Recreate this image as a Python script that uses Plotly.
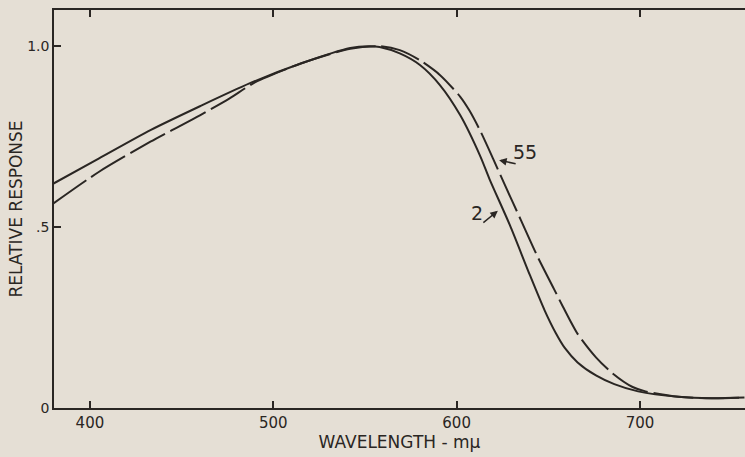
import plotly.graph_objects as go

# Curve "2" (solid)
wl_2 = [380, 405, 433, 460, 487, 515, 542, 552, 558, 569, 580, 591, 602, 613, 618,
        629, 640, 648, 654, 659, 666, 676, 686, 699, 721, 739, 757]
resp_2 = [0.62, 0.69, 0.768, 0.834, 0.897, 0.952, 0.995, 1.0, 0.998, 0.98, 0.948, 0.892,
          0.809, 0.695, 0.632, 0.506, 0.367, 0.27, 0.208, 0.166, 0.126, 0.09, 0.066,
          0.046, 0.031, 0.027, 0.029]

# Curve "55" (dashed)
wl_55 = [380, 405, 433, 460, 476, 490, 515, 542, 558, 569, 580, 591, 602, 607, 613,
         620, 626, 635, 644, 653, 658, 666, 676, 685, 696, 703, 721, 739, 757]
resp_55 = [0.565, 0.653, 0.736, 0.809, 0.855, 0.9, 0.952, 0.993, 1.0, 0.989, 0.961, 0.92,
           0.86, 0.822, 0.765, 0.688, 0.62, 0.52, 0.42, 0.33, 0.28, 0.205, 0.14,
           0.096, 0.058, 0.046, 0.031, 0.027, 0.029]

x_ticks = [400, 500, 600, 700]
y_ticks = [0, 0.5, 1.0]
y_ticktext = ["0", ".5", "1.0"]

BG = "#e5dfd5"
INK = "#2a2623"
FONT = "DejaVu Sans"

fig = go.Figure()
fig.add_trace(go.Scatter(x=wl_2, y=resp_2, mode="lines", name="2",
                         line=dict(color=INK, width=2, shape="spline", smoothing=0.7)))
fig.add_trace(go.Scatter(x=wl_55, y=resp_55, mode="lines", name="55",
                         line=dict(color=INK, width=2, dash="40px,6px",
                                   shape="spline", smoothing=0.7)))

fig.update_layout(
    width=745, height=457, autosize=False,
    margin=dict(l=54, r=0, t=10, b=49),
    paper_bgcolor=BG, plot_bgcolor=BG,
    showlegend=False,
    font=dict(family=FONT, color=INK),
    xaxis=dict(range=[380.4, 757.3], tickvals=x_ticks, ticks="inside", ticklen=7,
               tickwidth=1.5, tickcolor=INK, showline=True, linewidth=1.5, linecolor=INK,
               mirror="allticks", showgrid=False, zeroline=False,
               tickfont=dict(size=15, family=FONT, color=INK),
               title=dict(text="WAVELENGTH - mμ", font=dict(size=17, family=FONT, color=INK),
                          standoff=5)),
    yaxis=dict(range=[0, 1.1], tickvals=y_ticks, ticktext=y_ticktext, ticks="inside",
               ticklen=7, tickwidth=1.5, tickcolor=INK, showline=True, linewidth=1.5,
               linecolor=INK, mirror=False, showgrid=False, zeroline=False,
               tickfont=dict(size=14, family=FONT, color=INK),
               title=dict(text="RELATIVE RESPONSE", font=dict(size=17, family=FONT, color=INK),
                          standoff=0)),
    yaxis2=dict(range=[0, 1.1], overlaying="y", side="right", tickvals=[0.5, 1.0],
                ticks="inside", ticklen=7, tickwidth=1.5, tickcolor=INK,
                showticklabels=False, showline=False, showgrid=False, zeroline=False),
)

# Curve labels with pointer arrows
fig.add_annotation(x=637.3, y=0.707, text="55", showarrow=False,
                   font=dict(size=19, family=FONT, color=INK))
fig.add_annotation(x=623.2, y=0.685, text="", showarrow=True, ax=18, ay=4,
                   arrowhead=2, arrowsize=1, arrowwidth=1.5, arrowcolor=INK)
fig.add_annotation(x=611.1, y=0.539, text="2", showarrow=False,
                   font=dict(size=19, family=FONT, color=INK))
fig.add_annotation(x=622.5, y=0.545, text="", showarrow=True, ax=-16, ay=13,
                   arrowhead=2, arrowsize=1, arrowwidth=1.5, arrowcolor=INK)

fig.write_html("out.html")
